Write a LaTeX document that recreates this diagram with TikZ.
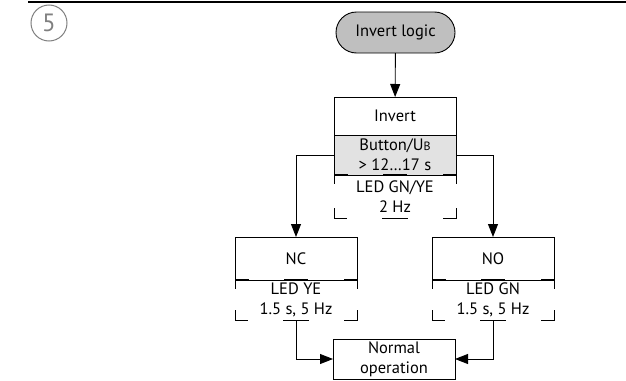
\documentclass[tikz,border=0pt]{standalone}
\usepackage{fontspec}
\setmainfont{PT Sans}
\usetikzlibrary{arrows.meta, positioning, calc, shapes.misc}
\definecolor{pillgray}{RGB}{191,191,191}
\definecolor{buttongray}{RGB}{226,226,226}
\definecolor{markgray}{RGB}{128,128,128}

% LED marks round a status node
\newcommand{\ledframe}[1]{%
  \draw (#1.north west) -- ++(0,9) (#1.north east) -- ++(0,9);
  \draw[line width=2pt] (#1.north west) -- ++(14,0)
    ($(#1.north)+(-12,0)$) -- ++(24,0)
    (#1.north east) -- ++(-13,0);
  \draw ($(#1.south west)+(0,-10)$) |- ++(13,10)
    ($(#1.south east)+(0,-10)$) |- ++(-13,10)
    ($(#1.south)+(-13,0)$) -- ++(26,0);
}

\begin{document}
\begin{tikzpicture}[x=1pt, y=-1pt, line width=0.9pt,
    >={Triangle[length=13pt,width=10pt]},
    every node/.style={font=\fontsize{16.5}{20}\selectfont, align=center, inner sep=0pt, outer sep=0pt},
    pill/.style={rounded rectangle, draw, fill=pillgray, minimum width=119, minimum height=41},
    box/.style={draw, minimum width=122, minimum height=#1},
    box/.default=40,
    led/.style={minimum width=122, minimum height=#1},
    led/.default=40]
  \useasboundingbox (0,0) rectangle (626,380);
  \draw[line width=1.3pt] (28,2) -- (626,2);
  \node[circle, draw=markgray, line width=1pt, minimum size=36, text=markgray,
    font=\fontsize{25}{25}\selectfont] (stepnum) at (49,23) {5};

  \node[pill] (logic) at (395.5,32.5) {Invert logic};
  \node[box=38] (invert) at (395,116) {Invert};
  \node[box=40, fill=buttongray, below=0pt of invert] (button)
    {Button/U{\fontsize{12}{12}\selectfont B}\\\textgreater{} 12…17 s};
  \node[led=43, below=0pt of button] (ledinv) {LED GN/YE\\2 Hz};
  \ledframe{ledinv}

  \node[box=43] (nc) at (296,258.5) {NC};
  \node[led, below=0pt of nc] (lednc) {LED YE\\1.5 s, 5 Hz};
  \ledframe{lednc}
  \node[box=43] (no) at (493,258.5) {NO};
  \node[led, below=0pt of no] (ledno) {LED GN\\1.5 s, 5 Hz};
  \ledframe{ledno}

  \node[box=40] (normal) at (394,359) {Normal\\operation};

  \draw[->] (logic) -- (invert);
  \draw[->] (button.west) -| (nc.north);
  \draw[->] (button.east) -| (no.north);
  \draw[->] (lednc.south) |- (normal.west);
  \draw[->] (ledno.south) |- (normal.east);
\end{tikzpicture}
\end{document}
